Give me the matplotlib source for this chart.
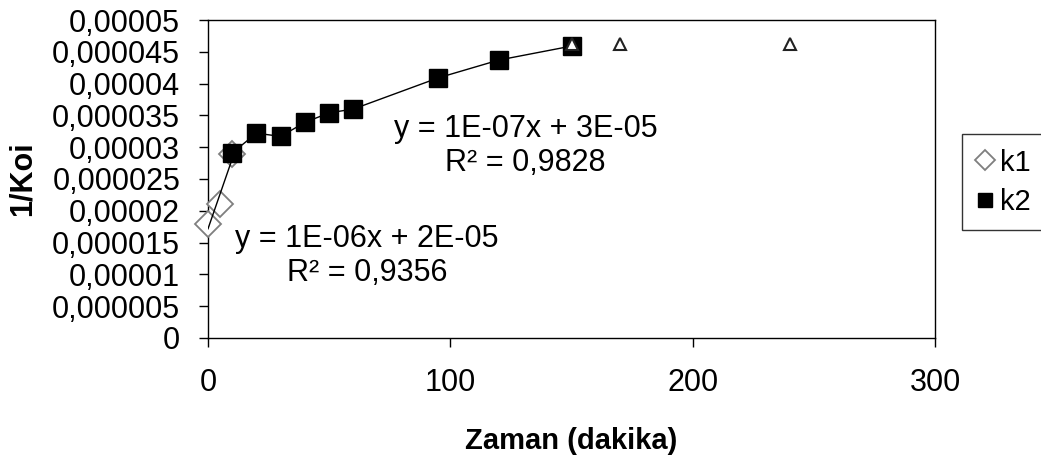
import matplotlib
matplotlib.use("Agg")
import matplotlib.pyplot as plt
import numpy as np

plt.rcParams['font.family'] = ['Liberation Sans', 'DejaVu Sans']

# -- data --
k1_x = [0, 5, 10]
k1_y = [0.000018, 0.000021, 0.000029]
k2_x = [10, 20, 30, 40, 50, 60, 95, 120, 150]
k2_y = [0.0000291, 0.0000322, 0.0000317, 0.0000339, 0.0000354, 0.000036,
        0.0000409, 0.0000437, 0.0000459]
k3_x = [150, 170, 240]
k3_y = [0.0000462, 0.0000462, 0.0000462]

y_ticks = [0, 0.000005, 0.00001, 0.000015, 0.00002, 0.000025, 0.00003,
           0.000035, 0.00004, 0.000045, 0.00005]
y_labels = ["0", "0,000005", "0,00001", "0,000015", "0,00002", "0,000025",
            "0,00003", "0,000035", "0,00004", "0,000045", "0,00005"]
x_ticks = [0, 100, 200, 300]

fig = plt.figure(figsize=(10.41, 4.63), dpi=100)
ax = fig.add_axes([0.1998, 0.270, 0.6984, 0.6868])

# k1 with linear trendline
ax.plot(k1_x, k1_y, linestyle="none", marker="D", markersize=13,
        markerfacecolor="white", markeredgecolor="#7f7f7f", markeredgewidth=1.3,
        label="k1", zorder=3, clip_on=False)
fit = np.polyfit(k1_x, k1_y, 1)
xs = np.array([min(k1_x), max(k1_x)])
ax.plot(xs, np.polyval(fit, xs), color="black", linewidth=1, zorder=4)

# k2 joined by a thin line
ax.plot(k2_x, k2_y, color="black", linewidth=1, zorder=4)
ax.plot(k2_x, k2_y, linestyle="none", marker="s", markersize=13.5,
        color="black", label="k2", zorder=5)

# k3 open triangles (not in legend)
ax.plot(k3_x, k3_y, linestyle="none", marker="^", markersize=9,
        markerfacecolor="white", markeredgecolor="#222222", markeredgewidth=1.5,
        zorder=6)

ax.set_xlim(0, 300)
ax.set_ylim(0, 0.00005)
ax.set_xticks(x_ticks)
ax.set_xticklabels([str(t) for t in x_ticks], fontsize=22)
ax.set_yticks(y_ticks)
ax.set_yticklabels(y_labels, fontsize=22)
ax.tick_params(direction="out", length=6.5, width=1)
ax.tick_params(axis="y", pad=13.5)
ax.tick_params(axis="x", pad=15)
for sp in ax.spines.values():
    sp.set_linewidth(1)

ax.set_xlabel("Zaman (dakika)", fontsize=21, fontweight="bold")
ax.xaxis.set_label_coords(0.5, -(441 - 338) / 318, transform=ax.transAxes)
ax.xaxis.label.set_va("center")
ax.set_ylabel("1/Koi", fontsize=22, fontweight="bold")
ax.yaxis.set_label_coords(-(208 - 23) / 727, 0.5)
ax.yaxis.label.set_va("center")

ax.text(131, 0.0000302, "y = 1E-07x + 3E-05\nR² = 0,9828", fontsize=22,
        ha="center", va="center", linespacing=1.15)
ax.text(65.6, 0.0000129, "y = 1E-06x + 2E-05\nR² = 0,9356", fontsize=22,
        ha="center", va="center", linespacing=1.15)

leg = ax.legend(loc="center left", bbox_to_anchor=(1.037, 0.49), fontsize=21,
                frameon=True, fancybox=False, edgecolor="black",
                borderaxespad=0, handlelength=0.55, handletextpad=0.25,
                borderpad=0.5, labelspacing=0.38, markerscale=0.75)
leg.get_frame().set_linewidth(1)

fig.savefig("out.png", dpi=100)
